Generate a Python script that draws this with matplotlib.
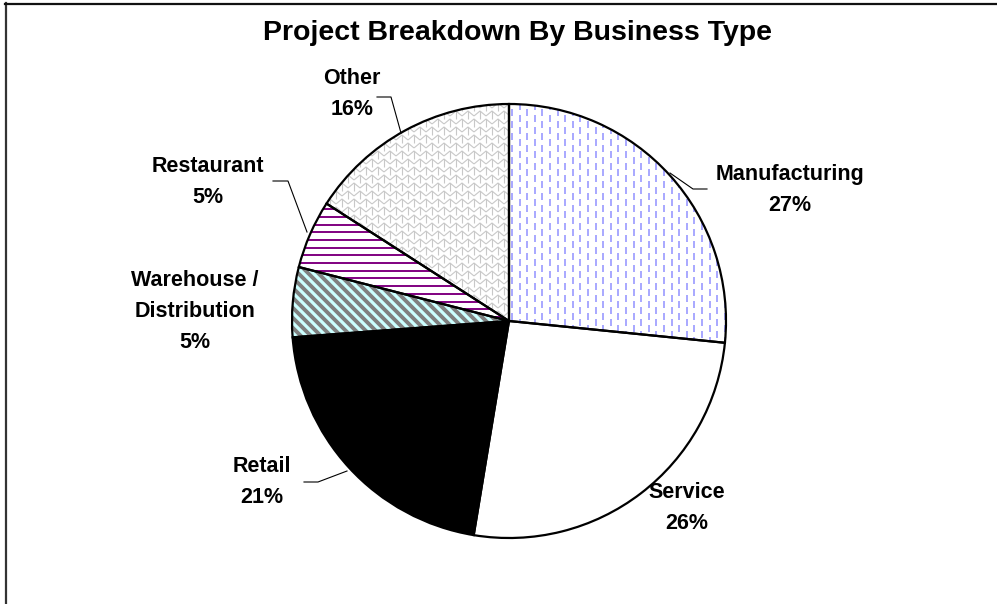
import numpy as np
import matplotlib
matplotlib.use("Agg")
import matplotlib.pyplot as plt
from matplotlib.collections import LineCollection
from matplotlib.lines import Line2D

categories = ["Manufacturing", "Service", "Retail", "Warehouse /\nDistribution", "Restaurant", "Other"]
values = [26.6, 26.0, 21.2, 5.2, 5.1, 15.9]
title = "Project Breakdown By Business Type"

W, H = 997, 604
fig = plt.figure(figsize=(W / 100, H / 100), dpi=100)
ax = fig.add_axes([0, 0, 1, 1])
ax.set_axis_off()

def P(x, y):
    return (x, H - y)

cx, cy = P(509, 321)
R = 217

face = ["white", "white", "black", "#808080", "white", "white"]
wedges, _ = ax.pie(values, startangle=90, counterclock=False, center=(cx, cy), radius=R,
                   colors=face, wedgeprops=dict(linewidth=0), frame=False)

def add_lines(segs, color, lw, wedge):
    lc = LineCollection(segs, colors=color, linewidths=lw, zorder=3, capstyle="butt")
    ax.add_collection(lc)
    lc.set_clip_path(wedge)

x0, x1 = cx - R - 10, cx + R + 10
y0, y1 = cy - R - 10, cy + R + 10

# Manufacturing: dashed vertical blue lines
segs = []
for i, x in enumerate(np.arange(cx + 3, x1, 7.6)):
    off = 0 if i % 2 == 0 else 6
    for y in np.arange(y0 + off, y1, 12):
        segs.append([(x, y), (x, y + 7)])
add_lines(segs, "#9a9aff", 1.2, wedges[0])

# Warehouse: diagonal light-cyan stripes on grey
segs = []
for c in np.arange(x0 + y0 - 2 * R, x1 + y1 + 2 * R, 10):
    segs.append([(c - y0, y0), (c - y1, y1)])
add_lines(segs, "#ccffff", 2.3, wedges[3])

# Restaurant: horizontal purple stripes
segs = []
for y in np.arange(y0, y1, 7.7):
    segs.append([(x0, y), (x1, y)])
add_lines(segs, "#800080", 1.4, wedges[4])

# Other: grey scale-like pattern
segs = []
for j, y in enumerate(np.arange(y0, y1, 8)):
    off = 0 if j % 2 == 0 else 6
    for x in np.arange(x0 + off, x1, 12):
        segs.append([(x, y), (x + 6, y + 5), (x + 12, y)])
        segs.append([(x + 6, y + 5), (x + 6, y - 3)])
add_lines(segs, "#c8c8c8", 0.8, wedges[5])

# outlines on top
ax.pie(values, startangle=90, counterclock=False, center=(cx, cy), radius=R,
       wedgeprops=dict(fill=False, edgecolor="black", linewidth=1.6, zorder=5), frame=False)

ax.set_xlim(0, W)
ax.set_ylim(0, H)
ax.set_aspect("equal")

pct = [f"{round(v):d}%" for v in values]
lab_pos = [(790, 172), (687, 490), (262, 464), (195, 278), (208, 164), (352, 76)]
step = 31
fs = 15.5
cap = fs * 100 / 72 * 0.716
font = dict(family=["Liberation Sans", "DejaVu Sans"], fontweight="bold", fontsize=fs,
            ha="center", va="baseline", color="black")
for name, p, (lx, ly) in zip(categories, pct, lab_pos):
    lines = name.split("\n") + [p]
    for k, line in enumerate(lines):
        ax.text(*P(lx, ly + k * step + cap / 2), line, **font)

leaders = [
    [(670, 173), (693, 189), (707, 189)],
    [(273, 181), (288, 181), (307, 232)],
    [(304, 482), (318, 482), (347, 471)],
    [(377, 97), (391, 97), (401, 133)],
]
for pts in leaders:
    xs, ys = zip(*[P(x, y) for x, y in pts])
    ax.plot(xs, ys, color="black", linewidth=0.8, zorder=6)

tfs = 20.5
ax.text(*P(517, 30 + tfs * 100 / 72 * 0.716 / 2), title, family=["Liberation Sans", "DejaVu Sans"],
        fontweight="bold", fontsize=tfs, ha="center", va="baseline")

# figure border (left and top)
fig.add_artist(Line2D([5.5 / W, 5.5 / W], [0, 1 - 3 / H], transform=fig.transFigure,
                      color="#333333", linewidth=1.6))
fig.add_artist(Line2D([5 / W, 1], [1 - 3.5 / H, 1 - 3.5 / H], transform=fig.transFigure,
                      color="#111111", linewidth=1.6))

fig.savefig("out.png", dpi=100)
